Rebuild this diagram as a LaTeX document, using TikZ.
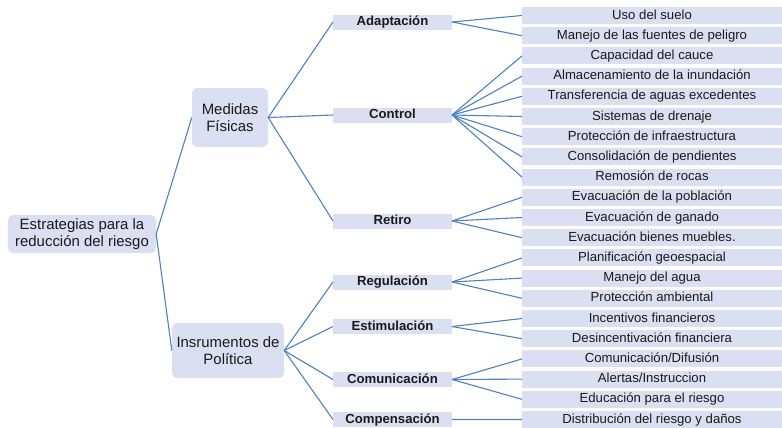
\documentclass[tikz,border=0pt]{standalone}
\usepackage{fontspec}
\setmainfont{Liberation Sans}
\usetikzlibrary{positioning}

\definecolor{boxfill}{RGB}{218,224,241}
\definecolor{linkblue}{RGB}{79,129,189}
\definecolor{textgray}{RGB}{26,26,26}

\begin{document}
\begin{tikzpicture}[
    x=1bp, y=1bp,
    node distance=3.2bp,
    mainbox/.style={rectangle, rounded corners=5bp, fill=boxfill, align=center,
                    inner sep=0pt, text=textgray, font=\fontsize{15}{16.6}\selectfont},
    catbox/.style={rectangle, fill=boxfill, minimum width=119bp, minimum height=15bp,
                   text height=9.6bp, text depth=2.6bp, outer sep=0pt,
                   inner sep=0pt, text=textgray, font=\fontsize{13.2}{15}\selectfont\bfseries},
    leafbox/.style={rectangle, fill=boxfill, minimum width=260bp, minimum height=17bp,
                    text height=9.6bp, text depth=2.6bp, outer sep=0pt,
                    inner sep=0pt, text=textgray, font=\fontsize{13.2}{15}\selectfont},
    link/.style={draw=linkblue, line width=1.1bp}
]
\useasboundingbox (0,0) rectangle (782,-427);

% Root and first level
\node[mainbox, minimum width=148bp, minimum height=38bp] (estr) at (82,-234) {Estrategias para la\\reducción del riesgo};
\node[mainbox, minimum width=76bp, minimum height=59bp] (medidas) at (230,-117.5) {Medidas\\Físicas};
\node[mainbox, minimum width=112bp, minimum height=55bp] (instr) at (228,-350.5) {Insrumentos de\\Política};

% Second level
\node[catbox] (adapt) at (392.5,-22) {Adaptación};
\node[catbox] (control) at (392.5,-115) {Control};
\node[catbox] (retiro) at (392.5,-221) {Retiro};
\node[catbox] (regul) at (392.5,-282) {Regulación};
\node[catbox] (estim) at (392.5,-326.5) {Estimulación};
\node[catbox] (comun) at (392.5,-379.5) {Comunicación};
\node[catbox] (compen) at (392.5,-419.5) {Compensación};

% Leaves
\node[leafbox] (uso) at (652,-15.5) {Uso del suelo};
\node[leafbox, below=of uso] (fuentes) {Manejo de las fuentes de peligro};
\node[leafbox, below=of fuentes] (cauce) {Capacidad del cauce};
\node[leafbox, below=of cauce] (almac) {Almacenamiento de la inundación};
\node[leafbox, below=of almac] (transf) {Transferencia de aguas excedentes};
\node[leafbox, below=of transf] (drenaje) {Sistemas de drenaje};
\node[leafbox, below=of drenaje] (infra) {Protección de infraestructura};
\node[leafbox, below=of infra] (pend) {Consolidación de pendientes};
\node[leafbox, below=of pend] (rocas) {Remosión de rocas};
\node[leafbox, below=of rocas] (evpob) {Evacuación de la población};
\node[leafbox, below=of evpob] (evgan) {Evacuación de ganado};
\node[leafbox, below=of evgan] (evbien) {Evacuación bienes muebles.};
\node[leafbox, below=of evbien] (planif) {Planificación geoespacial};
\node[leafbox, below=of planif] (agua) {Manejo del agua};
\node[leafbox, below=of agua] (ambiental) {Protección ambiental};
\node[leafbox, below=of ambiental] (incent) {Incentivos financieros};
\node[leafbox, below=of incent] (desinc) {Desincentivación financiera};
\node[leafbox, below=of desinc] (difus) {Comunicación/Difusión};
\node[leafbox, below=of difus] (alertas) {Alertas/Instruccion};
\node[leafbox, below=of alertas] (educ) {Educación para el riesgo};
\node[leafbox, below=of educ] (distrib) {Distribución del riesgo y daños};

% Root links
\draw[link] (estr.east) -- (medidas.west);
\draw[link] (estr.east) -- (instr.west);

% First level links
\draw[link] (medidas.east) -- (adapt.west);
\draw[link] (medidas.east) -- (control.west);
\draw[link] (medidas.east) -- (retiro.west);
\draw[link] (instr.east) -- (regul.west);
\draw[link] (instr.east) -- (estim.west);
\draw[link] (instr.east) -- (comun.west);
\draw[link] (instr.east) -- (compen.west);

% Second level links
\draw[link] (adapt.east) -- (uso.west);
\draw[link] (adapt.east) -- (fuentes.west);
\draw[link] (control.east) -- (cauce.west);
\draw[link] (control.east) -- (almac.west);
\draw[link] (control.east) -- (transf.west);
\draw[link] (control.east) -- (drenaje.west);
\draw[link] (control.east) -- (infra.west);
\draw[link] (control.east) -- (pend.west);
\draw[link] (control.east) -- (rocas.west);
\draw[link] (retiro.east) -- (evpob.west);
\draw[link] (retiro.east) -- (evgan.west);
\draw[link] (retiro.east) -- (evbien.west);
\draw[link] (regul.east) -- (planif.west);
\draw[link] (regul.east) -- (agua.west);
\draw[link] (regul.east) -- (ambiental.west);
\draw[link] (estim.east) -- (incent.west);
\draw[link] (estim.east) -- (desinc.west);
\draw[link] (comun.east) -- (difus.west);
\draw[link] (comun.east) -- (alertas.west);
\draw[link] (comun.east) -- (educ.west);
\draw[link] (compen.east) -- (distrib.west);

\end{tikzpicture}
\end{document}
